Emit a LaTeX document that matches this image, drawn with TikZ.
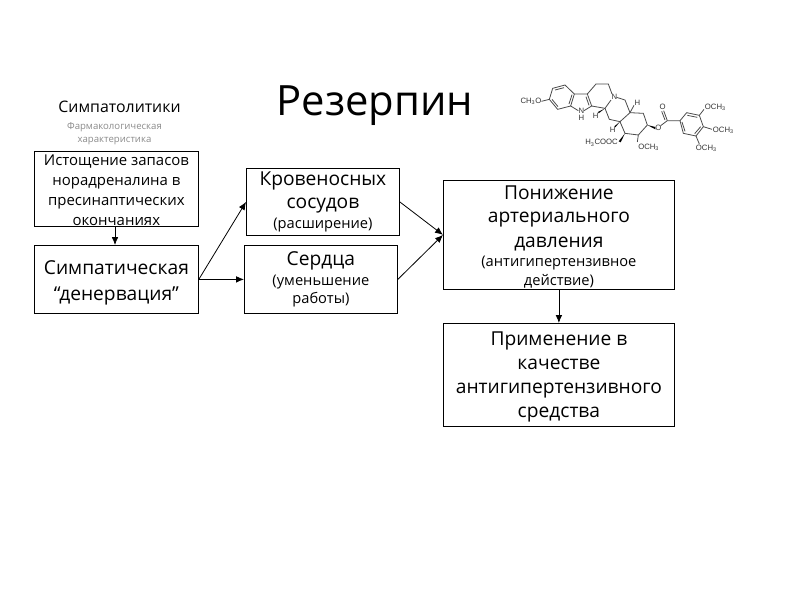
\documentclass[tikz,border=0pt]{standalone}
\usepackage{fontspec}
\setmainfont{Open Sans}
\usetikzlibrary{arrows.meta}
\newcommand{\fsA}{\fontsize{14.4}{18}\selectfont}
\newcommand{\fsB}{\fontsize{11}{14.4}\selectfont}
\newcommand{\chs}{\textsubscript{3}}
\tikzset{
  x=0.75pt,y=-0.75pt,
  boxnode/.style={draw=black,line width=0.6pt,fill=white,inner sep=0pt,anchor=north west,align=center},
  conn/.style={draw=black,line width=0.6pt,-{Latex[length=6pt,width=5pt]}},
  bond/.style={line width=0.6pt,draw=black!70},
  wedge/.style={fill=black,draw=none},
  chem/.style={font=\fontspec{Liberation Sans}\fontsize{5.8}{6}\selectfont,text=black!80,inner sep=0pt},
  mol/.style={shift={(510,80)},x=0.25pt,y=-0.25pt}
}
\begin{document}
\begin{tikzpicture}
\useasboundingbox (0,0) rectangle (800,600);
\fill[white] (0,0) rectangle (800,600);
\node[font=\fontsize{31.3}{34}\selectfont] (title) at (375,106) {Резерпин};
\node[font=\fontsize{11.9}{14}\selectfont] (sub) at (119.5,107) {Симпатолитики};
\node[font=\fontsize{7.2}{9.8}\selectfont,text=black!45,align=center] (gray) at (114.5,134) {Фармакологическая\\характеристика};

\node[boxnode,minimum width=123pt,minimum height=56.25pt,font=\fontsize{11.2}{14.8}\selectfont] (b1) at (34,151) {\rule{0pt}{10pt}Истощение запасов\\норадреналина в\\пресинаптических\\окончаниях};
\node[boxnode,minimum width=123pt,minimum height=51pt,font=\fontsize{14.4}{19.5}\selectfont] (b2) at (34,245) {\rule{0pt}{15.4pt}Симпатическая\\“денервация”};
\node[boxnode,minimum width=114.75pt,minimum height=50.25pt] (b3) at (246,168) {\fsA Кровеносных\\[5.1pt]\fsA сосудов\\[2.7pt]\fsB (расширение)};
\node[boxnode,minimum width=114.75pt,minimum height=51pt] (b4) at (244,245) {\fsA Сердца\\[2.7pt]\fsB (уменьшение\\[1.5pt]\fsB работы)};
\node[boxnode,minimum width=173.25pt,minimum height=81.75pt] (b5) at (443,180) {\rule{0pt}{13.3pt}\fsA Понижение\\[5.8pt]\fsA артериального\\[6.6pt]\fsA давления\\[2.1pt]\fsB (антигипертензивное\\[2.25pt]\fsB действие)};
\node[boxnode,minimum width=173.25pt,minimum height=77.25pt,font=\fontsize{14.4}{18}\selectfont] (b6) at (443,323) {\rule{0pt}{13.3pt}Применение в\\качестве\\антигипертензивного\\средства};

\coordinate (ax) at (115,0);
\draw[conn] (b1.south -| ax) -- (b2.north -| ax);
\draw[conn] (b2.east) -- (b3.west);
\draw[conn] (b2.east) -- (b4.west);
\draw[conn] (b3.east) -- (b5.west);
\draw[conn] (b4.east) -- (b5.west);
\draw[conn] (b5.south) -- (b6.north);

\begin{scope}[mol]
\draw[bond] (128,25)--(165,15)--(193,42)--(182,78)--(143,88)--(118,58)--cycle;
\draw[bond] (135,30)--(162,23) (186,44)--(177,72) (144,80)--(126,58);
\draw[bond] (193,42)--(232,42)--(245,78)--(222,92) (205,92)--(182,78);
\draw[bond] (228,50)--(237,76);
\draw[bond] (232,42)--(258,12)--(295,12)--(306,42) (303,60)--(285,85)--(245,78);
\draw[bond] (320,52)--(345,60)--(360,98)--(330,125)--(298,118)--(285,85);
\draw[bond] (360,98)--(400,100)--(412,135)--(385,165)--(345,160)--(330,125);
\draw[bond] (118,58)--(94,64);
\draw[bond] (360,98)--(372,76);
\draw[wedge] (285,85)--(266,100)--(264,96)--cycle;
\draw[wedge] (330,125)--(316,142)--(313,139)--cycle;
\draw[wedge] (345,160)--(326,184)--(332,187)--cycle;
\draw[bond] (385,165)--(382,186);
\draw[wedge] (412,135)--(436,141)--(436,148)--cycle;
\draw[bond] (452,137)--(472,122)--(510,122);
\draw[bond] (472,122)--(461,92) (465,120)--(455,94);
\draw[bond] (510,122)--(530,98)--(568,106)--(580,140)--(558,168)--(520,160)--cycle;
\draw[bond] (532,106)--(562,112) (572,140)--(554,161) (525,154)--(516,126);
\draw[bond] (568,106)--(582,88) (580,140)--(606,148) (558,168)--(568,192);
\node[chem,anchor=east] (m1) at (95,64) {CH\chs O};
\node[chem] (m2) at (313,50) {N};
\node[chem] (m3) at (214,115) {H};
\node[chem] (m4) at (214,94) {N};
\node[chem] (m5) at (382,68) {H};
\node[chem] (m6) at (257,108) {H};
\node[chem] (m7) at (308,150) {H};
\node[chem,anchor=east] (m8) at (324,188) {H\chs COOC};
\node[chem,anchor=west] (m9) at (384,201) {OCH\chs};
\node[chem] (m10) at (445,145) {O};
\node[chem] (m11) at (458,82) {O};
\node[chem,anchor=west] (m12) at (584,82) {OCH\chs};
\node[chem,anchor=west] (m13) at (608,150) {OCH\chs};
\node[chem,anchor=west] (m14) at (557,205) {OCH\chs};
\end{scope}
\end{tikzpicture}
\end{document}
